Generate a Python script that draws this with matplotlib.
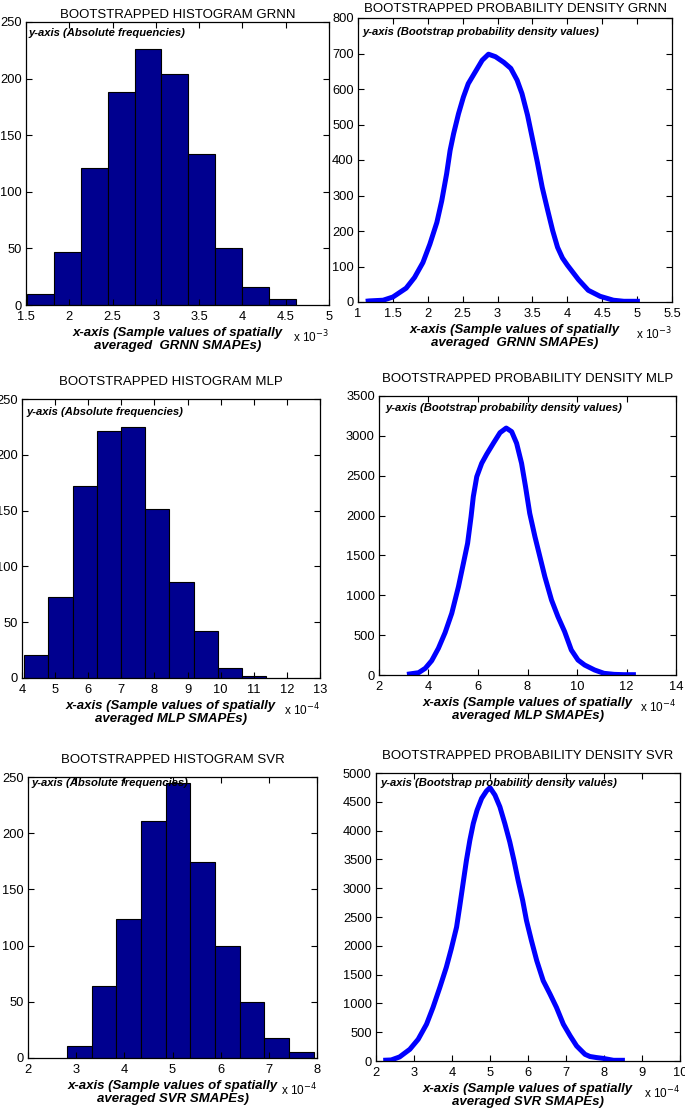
import matplotlib
matplotlib.use("Agg")
import matplotlib.pyplot as plt
from matplotlib.ticker import FuncFormatter, MultipleLocator

plt.rcParams['font.family'] = ['Liberation Sans', 'DejaVu Sans']

# ---------------- data (x values in units of the axis multiplier) ----------------
grnn_edges = [1.51, 1.821, 2.132, 2.443, 2.754, 3.065, 3.376, 3.687, 3.998, 4.309, 4.62]
grnn_counts = [10, 47, 121, 188, 226, 204, 133, 50, 16, 5]

mlp_edges = [4.07, 4.80, 5.53, 6.26, 6.99, 7.72, 8.45, 9.18, 9.91, 10.64, 11.37]
mlp_counts = [21, 73, 172, 221, 225, 151, 86, 42, 9, 2]

svr_edges = [2.81, 3.322, 3.834, 4.346, 4.858, 5.37, 5.882, 6.394, 6.906, 7.418, 7.93]
svr_counts = [11, 64, 124, 211, 245, 174, 100, 50, 18, 5]

grnn_dx = [1.11, 1.16, 1.36, 1.50, 1.69, 1.81, 1.93, 2.03, 2.13, 2.20, 2.27, 2.32, 2.37,
           2.44, 2.51, 2.58, 2.68, 2.78, 2.87, 2.97, 3.09, 3.19, 3.28, 3.35, 3.43,
           3.50, 3.57, 3.64, 3.72, 3.79, 3.86, 3.93, 4.00, 4.16, 4.30, 4.47, 4.66,
           4.81, 5.04]
grnn_dy = [2, 3, 5, 14, 39, 69, 111, 163, 224, 285, 361, 427, 474,
           530, 577, 615, 648, 681, 698, 691, 675, 658, 625, 587, 526,
           460, 394, 323, 257, 201, 154, 124, 104, 63, 33, 16, 5,
           2, 2]

mlp_dx = [3.13, 3.60, 3.87, 4.13, 4.40, 4.67, 4.94, 5.21, 5.41, 5.58, 5.72, 5.81, 5.95,
          6.15, 6.35, 6.62, 6.89, 7.14, 7.36, 7.56, 7.76, 7.92, 8.09, 8.30, 8.50,
          8.70, 8.97, 9.23, 9.50, 9.77, 10.04, 10.31, 10.71, 11.09, 11.50, 11.90, 12.38]
mlp_dy = [8, 29, 84, 180, 335, 531, 774, 1108, 1401, 1652, 1987, 2237, 2488,
          2656, 2769, 2907, 3040, 3098, 3053, 2907, 2656, 2363, 2028, 1736, 1485,
          1234, 941, 732, 544, 314, 188, 125, 63, 21, 8, 4, 4]

svr_dx = [2.19, 2.40, 2.62, 2.89, 3.11, 3.33, 3.50, 3.68, 3.85, 3.98, 4.12, 4.20, 4.29,
          4.38, 4.47, 4.56, 4.66, 4.78, 4.91, 5.00, 5.13, 5.26, 5.39, 5.52, 5.63,
          5.74, 5.86, 5.96, 6.09, 6.23, 6.40, 6.58, 6.75, 6.93, 7.11, 7.28, 7.50,
          7.63, 7.80, 7.98, 8.25, 8.55]
svr_dy = [12, 18, 70, 203, 377, 639, 929, 1278, 1626, 1945, 2323, 2671, 3078,
          3484, 3833, 4123, 4355, 4559, 4690, 4745, 4617, 4413, 4123, 3804, 3484,
          3136, 2787, 2439, 2091, 1742, 1394, 1161, 929, 639, 436, 261, 116,
          78, 60, 45, 12, 12]

models = ["GRNN", "MLP", "SVR"]
multipliers = ["-3", "-4", "-4"]
xlabels = ["x-axis (Sample values of spatially\naveraged  GRNN SMAPEs)",
           "x-axis (Sample values of spatially\naveraged MLP SMAPEs)",
           "x-axis (Sample values of spatially\naveraged SVR SMAPEs)"]

# ---------------- layout ----------------
W, H = 685, 1112
fig = plt.figure(figsize=(W / 100, H / 100), dpi=100)


def add_ax(l, r, t, b):
    return fig.add_axes([l / W, 1 - b / H, (r - l) / W, (b - t) / H])


fmt = FuncFormatter(lambda v, p: "%g" % round(v, 6))


def style(ax, xlim, xstep, ylim, ystep):
    ax.set_xlim(*xlim)
    ax.set_ylim(*ylim)
    ax.xaxis.set_major_locator(MultipleLocator(xstep))
    ax.yaxis.set_major_locator(MultipleLocator(ystep))
    ax.xaxis.set_major_formatter(fmt)
    ax.yaxis.set_major_formatter(fmt)
    ax.tick_params(direction='in', top=True, right=True, length=4, width=0.8,
                   labelsize=9.3, pad=3)
    ax.tick_params(axis='x', pad=4.5)
    for s in ax.spines.values():
        s.set_linewidth(0.9)


def decorate(ax, title, ytxt, ytxt_off, xlabel, mult, title_pad):
    ax.set_title(title, fontsize=9.5, pad=title_pad)
    ax.annotate(ytxt, xy=(0, 1), xycoords='axes fraction',
                xytext=ytxt_off, textcoords='offset pixels',
                ha='left', va='center', fontsize=8.1, fontweight='bold', fontstyle='italic')
    ax.set_xlabel(xlabel, fontsize=9.5, fontweight='bold', fontstyle='italic',
                  labelpad=3, linespacing=1.08)
    ax.annotate(r"x 10$^{%s}$" % mult, xy=(1, 0), xycoords='axes fraction',
                xytext=(0, -32), textcoords='offset pixels',
                ha='right', va='center', fontsize=8.5)


hist_color = (0, 0, 0.5625)

# Panel positions (pixel l, r, t, b)
pos_hist = [(26, 329, 22, 305), (22, 320, 399, 678), (28, 317, 777, 1058)]
pos_dens = [(358, 672, 18, 302), (379, 676, 396, 675), (376, 680, 773, 1061)]

hist_data = [(grnn_edges, grnn_counts), (mlp_edges, mlp_counts), (svr_edges, svr_counts)]
dens_data = [(grnn_dx, grnn_dy), (mlp_dx, mlp_dy), (svr_dx, svr_dy)]

hist_lims = [((1.5, 5), 0.5), ((4, 13), 1), ((2, 8), 1)]
dens_lims = [((1, 5.5), 0.5, (0, 800), 100), ((2, 14), 2, (0, 3500), 500),
             ((2, 10), 1, (0, 5000), 500)]
hist_ytxt_off = [(2, -11), (4, -13), (3, -6)]
dens_ytxt_off = [(4, -14), (6, -12), (4, -10)]
hist_title_pad = [3, 10, 10]
dens_title_pad = [4, 10, 10]

for i, m in enumerate(models):
    # histogram
    ax = add_ax(*pos_hist[i])
    edges, counts = hist_data[i]
    widths = [edges[k + 1] - edges[k] for k in range(len(counts))]
    ax.bar(edges[:-1], counts, width=widths, align='edge', color=hist_color,
           edgecolor='black', linewidth=0.8)
    style(ax, hist_lims[i][0], hist_lims[i][1], (0, 250), 50)
    decorate(ax, "BOOTSTRAPPED HISTOGRAM " + m, "y-axis (Absolute frequencies)",
             hist_ytxt_off[i], xlabels[i], multipliers[i], hist_title_pad[i])

    # density
    ax = add_ax(*pos_dens[i])
    dx, dy = dens_data[i]
    ax.plot(dx, dy, color=(0, 0, 1), linewidth=3.6, solid_capstyle='butt',
            solid_joinstyle='round')
    xl, xs, yl, ys = dens_lims[i]
    style(ax, xl, xs, yl, ys)
    decorate(ax, "BOOTSTRAPPED PROBABILITY DENSITY " + m,
             "y-axis (Bootstrap probability density values)",
             dens_ytxt_off[i], xlabels[i], multipliers[i], dens_title_pad[i])

fig.savefig("out.png", dpi=100)
